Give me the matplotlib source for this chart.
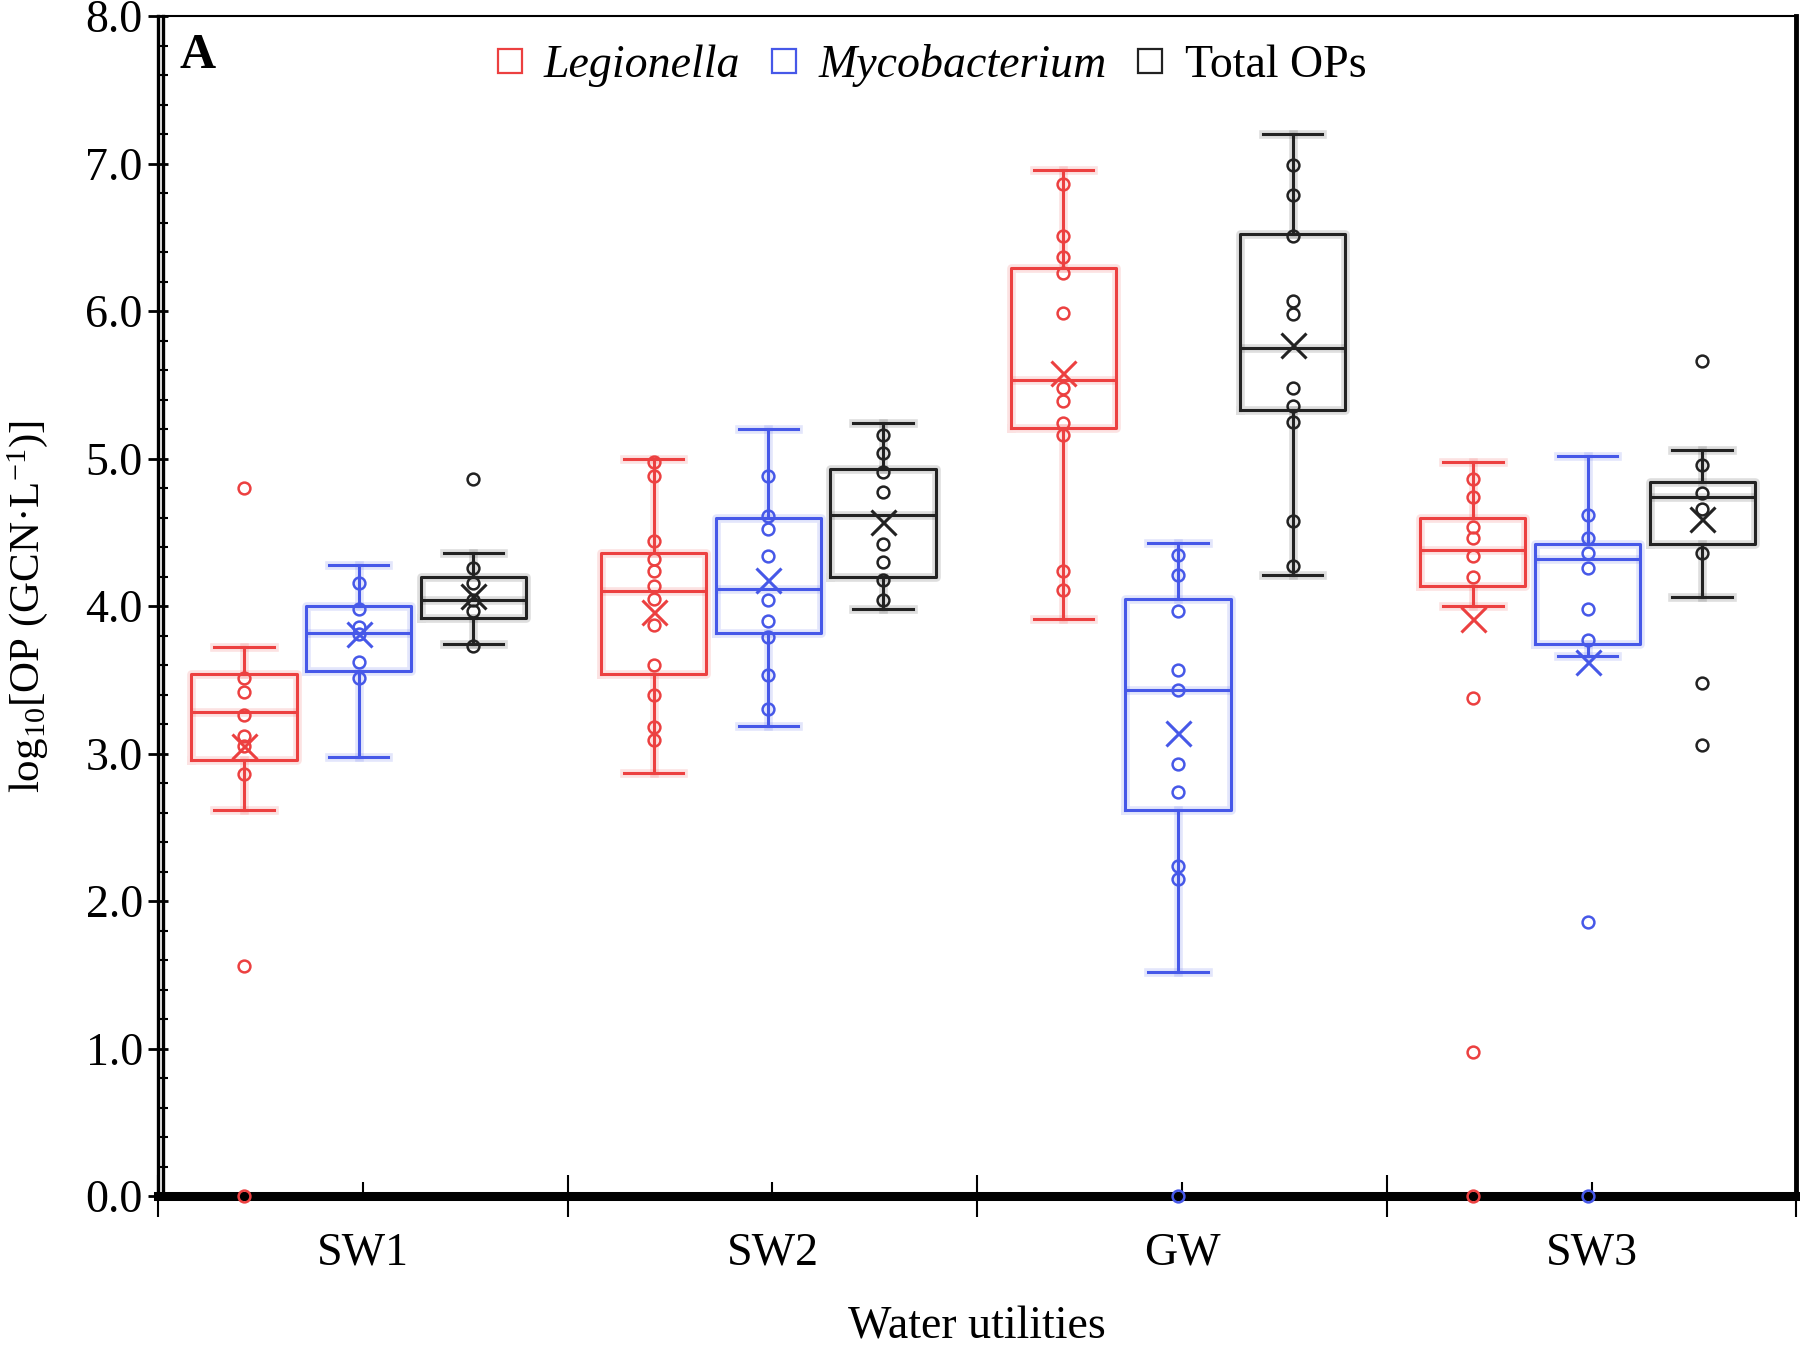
import numpy as np
import matplotlib
matplotlib.use("Agg")
import matplotlib.pyplot as plt
import matplotlib.patheffects as pe
from matplotlib.lines import Line2D
from matplotlib.transforms import ScaledTranslation

# ==========================================================
# Data
# ==========================================================
groups = ["SW1", "SW2", "GW", "SW3"]
series = ["Legionella", "Mycobacterium", "Total OPs"]

# Legionella
leg_q1 = [2.96, 3.54, 5.21, 4.14]
leg_med = [3.28, 4.10, 5.53, 4.38]
leg_q3 = [3.54, 4.36, 6.29, 4.60]
leg_lo = [2.62, 2.87, 3.91, 4.00]
leg_hi = [3.72, 5.00, 6.96, 4.98]
leg_mean = [3.05, 3.96, 5.58, 3.91]
leg_pts = [
    [4.80, 3.51, 3.42, 3.26, 3.12, 3.05, 2.86, 1.56, 0.0],
    [4.98, 4.88, 4.44, 4.32, 4.24, 4.14, 4.05, 3.87, 3.60, 3.40, 3.18, 3.09],
    [6.86, 6.51, 6.37, 6.26, 5.99, 5.48, 5.39, 5.24, 5.16, 4.24, 4.11],
    [4.86, 4.74, 4.54, 4.46, 4.34, 4.20, 3.38, 0.98, 0.0],
]

# Mycobacterium
myc_q1 = [3.56, 3.815, 2.62, 3.745]
myc_med = [3.82, 4.115, 3.43, 4.32]
myc_q3 = [4.00, 4.60, 4.05, 4.42]
myc_lo = [2.98, 3.19, 1.52, 3.66]
myc_hi = [4.28, 5.20, 4.43, 5.02]
myc_mean = [3.81, 4.18, 3.14, 3.62]
myc_pts = [
    [4.16, 3.98, 3.86, 3.81, 3.62, 3.51],
    [4.88, 4.61, 4.52, 4.34, 4.04, 3.90, 3.79, 3.53, 3.30],
    [4.35, 4.21, 3.97, 3.57, 3.43, 2.93, 2.74, 2.24, 2.15, 0.0],
    [4.62, 4.46, 4.36, 4.26, 3.98, 3.77, 1.86, 0.0],
]

# Total OPs
tot_q1 = [3.92, 4.20, 5.33, 4.42]
tot_med = [4.04, 4.62, 5.75, 4.74]
tot_q3 = [4.20, 4.93, 6.52, 4.84]
tot_lo = [3.74, 3.98, 4.21, 4.06]
tot_hi = [4.36, 5.24, 7.20, 5.06]
tot_mean = [4.07, 4.57, 5.77, 4.59]
tot_pts = [
    [4.86, 4.26, 4.16, 4.045, 3.97, 3.73],
    [5.16, 5.04, 4.91, 4.775, 4.42, 4.30, 4.18, 4.04],
    [6.99, 6.79, 6.51, 6.07, 5.98, 5.48, 5.36, 5.25, 4.58, 4.27],
    [5.66, 4.96, 4.77, 4.66, 4.36, 3.48, 3.06],
]

colors = ["#EC4040", "#4658E8", "#222222"]
offsets = [-0.29, -0.01, 0.27]

# ==========================================================
# Font settings
# ==========================================================
plt.rcParams["font.family"] = ["Liberation Serif", "DejaVu Serif"]
plt.rcParams["mathtext.fontset"] = "custom"
plt.rcParams["mathtext.rm"] = "Liberation Serif"
plt.rcParams["mathtext.it"] = "Liberation Serif:italic"

fig = plt.figure(figsize=(18, 13.47), dpi=100)
ax = fig.add_axes([0.0878, 0.112, 0.9102, 0.876])

all_stats = [
    (leg_q1, leg_med, leg_q3, leg_lo, leg_hi, leg_mean, leg_pts),
    (myc_q1, myc_med, myc_q3, myc_lo, myc_hi, myc_mean, myc_pts),
    (tot_q1, tot_med, tot_q3, tot_lo, tot_hi, tot_mean, tot_pts),
]

lw = 2.2
for k, (q1, med, q3, lo, hi, mean, pts) in enumerate(all_stats):
    c = colors[k]
    pos = [i + 0.5 + offsets[k] for i in range(len(groups))]
    stats = []
    for i in range(len(groups)):
        stats.append(dict(q1=q1[i], med=med[i], q3=q3[i],
                          whislo=lo[i], whishi=hi[i], fliers=[]))
    glow = [pe.Stroke(linewidth=lw + 4, foreground=c, alpha=0.15), pe.Normal()]
    props = dict(color=c, linewidth=lw, path_effects=glow)
    ax.bxp(stats, positions=pos, widths=0.257, capwidths=0.145,
           showfliers=False, boxprops=props, whiskerprops=props,
           capprops=props, medianprops=props, manage_ticks=False)
    # diem du lieu
    for i in range(len(groups)):
        ax.plot([pos[i]] * len(pts[i]), pts[i], linestyle="none", marker="o",
                markersize=8.5, markerfacecolor="none", markeredgecolor=c,
                markeredgewidth=1.8, clip_on=False, zorder=4)
    # gia tri trung binh
    ax.plot(pos, mean, linestyle="none", marker="x", markersize=18,
            markeredgewidth=2.2, color=c, zorder=5)

# ==========================================================
# Axes
# ==========================================================
ax.set_xlim(0, 4)
ax.set_ylim(0, 8)

ax.set_yticks(np.arange(0, 8.01, 1.0))
ax.set_yticklabels(["%.1f" % v for v in np.arange(0, 8.01, 1.0)])
ax.set_yticks(np.arange(0, 8.01, 0.2), minor=True)
ax.tick_params(axis="y", which="major", direction="inout", length=14,
               width=2, labelsize=33, pad=4)
ax.tick_params(axis="y", which="minor", direction="in", length=7, width=1.5)

ax.set_xticks([i + 0.5 for i in range(len(groups))])
ax.set_xticklabels(groups)
ax.set_xticks([0, 1, 2, 3, 4], minor=True)
ax.tick_params(axis="x", which="major", direction="in", length=10,
               width=1.5, labelsize=33, pad=26)
ax.tick_params(axis="x", which="minor", direction="inout", length=30, width=1.5)

ax.spines["bottom"].set_linewidth(6.5)
ax.spines["left"].set_linewidth(2.4)
ax.spines["top"].set_linewidth(1.5)
ax.spines["right"].set_linewidth(3.5)

# duong truc trai thu hai (truc doi)
off = ScaledTranslation(5 / 100, 0, fig.dpi_scale_trans)
ax.plot([0, 0], [0, 1], color="black", linewidth=2.4,
        transform=ax.transAxes + off, clip_on=False, zorder=3)

ax.set_xlabel("Water utilities", fontsize=33, va="top")
ax.xaxis.set_label_coords(0.5, -0.093)
ax.set_ylabel(r"log$_{10}$[OP (GCN·L$^{-1}$)]", fontsize=31)
ax.yaxis.set_label_coords(-0.066, 0.5)

ax.text(0.0134, 0.986, "A", transform=ax.transAxes, fontsize=36,
        fontweight="bold", va="top", ha="left")

# ==========================================================
# Legend
# ==========================================================
handles = []
for k in range(len(series)):
    handles.append(Line2D([], [], linestyle="none", marker="s", markersize=17,
                          markerfacecolor="none", markeredgecolor=colors[k],
                          markeredgewidth=1.6))
leg = ax.legend(handles, series, loc="center", bbox_to_anchor=(0.469, 0.958),
                ncol=3, frameon=False, fontsize=33, handletextpad=0.25,
                columnspacing=0.45, handlelength=1.0)
for t in leg.get_texts()[:2]:
    t.set_fontstyle("italic")

fig.savefig("out.png", dpi=100)
